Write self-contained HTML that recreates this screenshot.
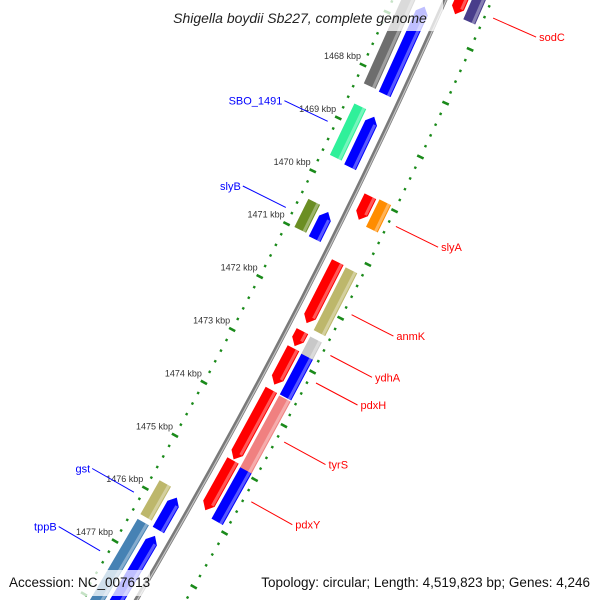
<!DOCTYPE html>
<html><head><meta charset="utf-8"><style>
html,body{margin:0;padding:0;background:#fff;width:600px;height:600px;overflow:hidden;}
svg{display:block;overflow:hidden;}
text{font-family:"Liberation Sans",sans-serif;}
</style></head><body>
<svg id="map" width="600" height="600" viewBox="0 0 600 600" xmlns="http://www.w3.org/2000/svg">
<defs><clipPath id="frame"><rect x="0" y="0" width="600" height="600"/></clipPath></defs>
<g clip-path="url(#frame)">
<g id="ticks"></g>
<g id="backbone"></g>
<g id="features"></g>
<g id="labels"></g>
<rect x="155" y="0" width="288" height="31" fill="#fff" fill-opacity="0.75"/>
<text x="300" y="23" text-anchor="middle" font-size="14" font-style="italic" fill="#222">Shigella boydii Sb227, complete genome</text>
<rect x="4" y="570" width="146" height="26" fill="#fff" fill-opacity="0.75"/>
<text x="9" y="587" font-size="13.5" fill="#111">Accession: NC_007613</text>
<rect x="255" y="570" width="341" height="26" fill="#fff" fill-opacity="0.75"/>
<text x="590" y="587" text-anchor="end" font-size="13.5" fill="#111">Topology: circular; Length: 4,519,823 bp; Genes: 4,246</text>
</g>
</svg>
<script>
// feature data (kbp)
const featStart = [1465.5,1468.66,1470.46,1475.77,1476.5, 1466.65,1468.72,1470.51,1475.88,1476.6, 1465.5,1469.96,1471.19,1472.48,1472.8,1473.58,1474.9, 1465.5,1469.94,1471.21,1472.5,1472.82,1473.6,1474.94];
const featEnd   = [1468.28,1469.63,1470.99,1476.41,1478.8, 1468.3,1469.67,1471.02,1476.49,1478.8, 1466.56,1470.4,1472.33,1472.76,1473.48,1474.88,1475.83, 1466.58,1470.45,1472.38,1472.86,1473.58,1474.99,1475.9];
const featLane  = [0,0,0,0,0, 1,1,1,1,1, 2,2,2,2,2,2,2, 3,3,3,3,3,3,3];
const featColor = ["#6e6e6e","#2ff09a","#6b8e23","#bdb76b","#4682b4",
 "#0000ff","#0000ff","#0000ff","#0000ff","#0000ff",
 "#ff0000","#ff0000","#ff0000","#ff0000","#ff0000","#ff0000","#ff0000",
 "#483d8b","#ff8c00","#bdb76b","#c8c8c8","#0000ff","#f08080","#0000ff"];
const labelText = ["sodC","slyA","anmK","ydhA","pdxH","tyrS","pdxY","SBO_1491","slyB","gst","tppB"];
const labelK    = [1466.4,1470.27,1471.91,1472.67,1473.18,1474.28,1475.39,1469.13,1470.76,1476.15,1477.26];
const labelSide = [1,1,1,1,1,1,1,-1,-1,-1,-1];
const tickMajor = [1464,1465,1466,1467,1468,1469,1470,1471,1472,1473,1474,1475,1476,1477,1478,1479,1480];
const tickLabels = ["1468 kbp","1469 kbp","1470 kbp","1471 kbp","1472 kbp","1473 kbp","1474 kbp","1475 kbp","1476 kbp","1477 kbp"];
const tickLabelK = [1468,1469,1470,1471,1472,1473,1474,1475,1476,1477];

const NS="http://www.w3.org/2000/svg";
const laneD=[15,32,63,79], W=13, RING2=91, BB=48;
function P(k,d){
  const y0=65+(k-1468)*52.9, u=y0-65;
  const xL=363-0.462*u-1.236e-4*u*u;
  const m=-0.462-2.472e-4*u, n=Math.sqrt(1+m*m);
  return [xL+d/n, y0-d*m/n];
}
function mk(tag,attrs,parent){const e=document.createElementNS(NS,tag);for(const a in attrs)e.setAttribute(a,attrs[a]);parent.appendChild(e);return e;}
const f=x=>x.toFixed(1);
const pts=a=>a.map(p=>f(p[0])+","+f(p[1])).join(" ");

// ticks
const gT=document.getElementById('ticks');
for(let i=0;i<tickMajor.length-1;i++){
  for(let j=0;j<5;j++){
    const k=tickMajor[i]+j*0.2;
    [0,RING2].forEach(d=>{
      const L=j==0?3.5:1.2;
      const a=P(k,d-L),b=P(k,d+L);
      const ln=mk('line',{x1:f(a[0]),y1:f(a[1]),x2:f(b[0]),y2:f(b[1]),stroke:"#1a8a1a","stroke-width":j==0?2.6:2.4},gT);
      
      
    });
  }
}
tickLabelK.forEach((k,i)=>{
  const p=P(k,0);
  const t=mk('text',{x:f(p[0]-2),y:f(p[1]-6),"text-anchor":"end","font-size":"9",fill:"#333"},gT);
  t.textContent=tickLabels[i];
  
  
});

// backbone
const gB=document.getElementById('backbone');
const bb=[];for(let k=1464;k<=1480;k+=0.25)bb.push(P(k,BB));
const b1=mk('polyline',{points:pts(bb),fill:"none",stroke:"#7a7a7a","stroke-width":4.5},gB);


const b2=mk('polyline',{points:pts(bb.map(p=>[p[0]+1,p[1]])),fill:"none",stroke:"#c4c4c4","stroke-width":1.2},gB);



// features
const gF=document.getElementById('features');
featStart.forEach((s,i)=>{
  const e=featEnd[i], lane=featLane[i], d=laneD[lane];
  const a=0.12;
  let poly;
  if(lane==1){
    poly=[P(s,d),P(s+a,d+W/2),P(e,d+W/2),P(e,d-W/2),P(s+a,d-W/2)];
  } else if(lane==2){
    poly=[P(s,d-W/2),P(s,d+W/2),P(e-a,d+W/2),P(e,d),P(e-a,d-W/2)];
  } else {
    poly=[P(s,d-W/2),P(s,d+W/2),P(e,d+W/2),P(e,d-W/2)];
  }
  const pg=mk('polygon',{points:pts(poly),fill:featColor[i]},gF);
  
  
  const ee=lane==2?e-a:e, ss=lane==1?s+a:s;
  const st=mk('polygon',{points:pts([P(ss,d+W/2-4),P(ss,d+W/2-1),P(ee,d+W/2-1),P(ee,d+W/2-4)]),fill:"#fff","fill-opacity":0.35},gF);
  
  
});

// labels
const gL=document.getElementById('labels');
labelText.forEach((txt,i)=>{
  const side=labelSide[i], k=labelK[i];
  const col=side>0?"#ff0000":"#0000ff";
  const a=side>0?P(k,96):P(k,-8), b=side>0?P(k,143):P(k,-56);
  const dx=side>0?4:0, dy=side>0?-1:0;
  const ln=mk('line',{x1:f(a[0]+dx),y1:f(a[1]+dy),x2:f(b[0]+dx),y2:f(b[1]+dy),stroke:col,"stroke-width":1},gL);
  
  
  const t=mk('text',{x:f(b[0]+dx+(side>0?3:-2)),y:f(b[1]+dy+4),"text-anchor":side>0?"start":"end","font-size":"11",fill:col},gL);
  t.textContent=txt;
  
  
});
</script>
</body></html>
